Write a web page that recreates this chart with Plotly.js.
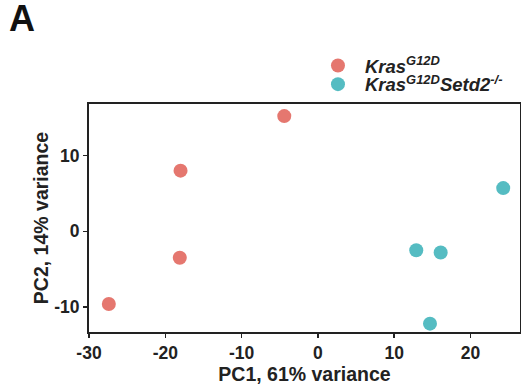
<!DOCTYPE html>
<html>
<head>
<meta charset="utf-8">
<script src="https://cdn.plot.ly/plotly-3.0.1.min.js"></script>
<style>html,body{margin:0;padding:0;background:#fff}#chart{width:521px;height:389px}</style>
</head>
<body>
<div id="chart"></div>
<script>
// Data
var groupNames = ['<i>Kras</i><sup><i>G12D</i></sup>', '<i>Kras</i><sup><i>G12D</i></sup><i>Setd2</i><sup><i>-/-</i></sup>'];
var krasPC1 = [-27.4, -18.0, -18.1, -4.4];
var krasPC2 = [-9.6, 8.0, -3.5, 15.2];
var setd2PC1 = [24.3, 12.9, 16.1, 14.7];
var setd2PC2 = [5.7, -2.5, -2.8, -12.2];
var xTickVals = [-30, -20, -10, 0, 10, 20];
var xTickText = ['-30', '-20', '-10', '0', '10', '20'];
var yTickVals = [-10, 0, 10];
var yTickText = ['-10', '0', '10'];

var colors = ['#E5776F', '#55BCC2'];
var font = 'Liberation Sans, Arial, sans-serif';

var traces = [
  {x: krasPC1, y: krasPC2, name: groupNames[0], type: 'scatter', mode: 'markers',
   marker: {color: colors[0], size: 14}, legend: 'legend'},
  {x: setd2PC1, y: setd2PC2, name: groupNames[1], type: 'scatter', mode: 'markers',
   marker: {color: colors[1], size: 14}, legend: 'legend2'}
];

var axisCommon = {
  showgrid: false, zeroline: false, showline: true, linecolor: '#222', linewidth: 2,
  mirror: true, ticks: 'outside', ticklen: 4, tickwidth: 1.5, tickcolor: '#222',
  tickfont: {family: font, size: 17.5, color: '#222', weight: 'bold'}
};

var legendFont = {family: font, size: 18.5, color: '#222', weight: 'bold', style: 'italic'};

var layout = {
  width: 521, height: 389,
  margin: {l: 89, r: 1, t: 104, b: 57},
  paper_bgcolor: '#fff', plot_bgcolor: '#fff',
  font: {family: font, color: '#222'},
  xaxis: Object.assign({}, axisCommon, {
    range: [-30, 26.5], tickmode: 'array', tickvals: xTickVals, ticktext: xTickText,
    title: {text: 'PC1, 61% variance', font: {family: font, size: 19.5, color: '#222', weight: 'bold'}, standoff: 0}
  }),
  yaxis: Object.assign({}, axisCommon, {
    range: [-13.3, 16.8], tickmode: 'array', tickvals: yTickVals, ticktext: yTickText,
    title: {text: 'PC2, 14% variance', font: {family: font, size: 19.5, color: '#222', weight: 'bold'}, standoff: 0}
  }),
  showlegend: true,
  legend: {
    x: 0.515, y: 1.167, xanchor: 'left', yanchor: 'middle',
    bgcolor: 'rgba(0,0,0,0)', itemwidth: 44, font: legendFont
  },
  legend2: {
    x: 0.515, y: 1.085, xanchor: 'left', yanchor: 'middle',
    bgcolor: 'rgba(0,0,0,0)', itemwidth: 44, font: legendFont
  },
  annotations: [{
    text: '<b>A</b>', xref: 'paper', yref: 'paper', x: -0.19, y: 1.375,
    xanchor: 'left', yanchor: 'middle', showarrow: false,
    font: {family: font, size: 36, color: '#111'}
  }]
};

Plotly.newPlot('chart', traces, layout, {displayModeBar: false, staticPlot: true});
</script>
</body>
</html>
